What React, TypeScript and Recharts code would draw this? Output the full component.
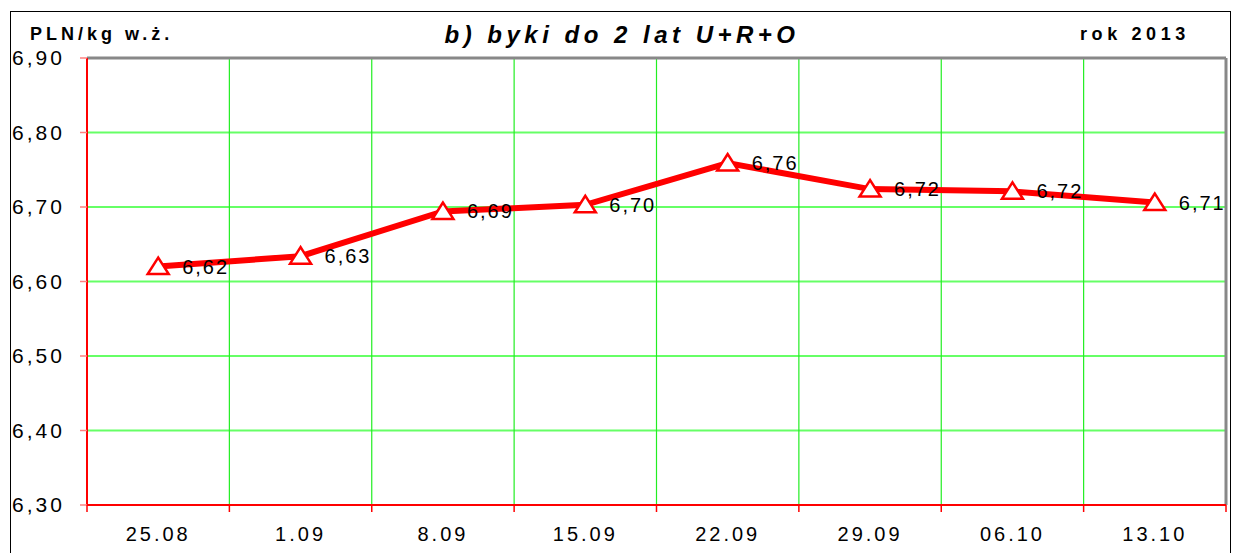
import React from 'react';
import {
  LineChart,
  Line,
  XAxis,
  YAxis,
  CartesianGrid,
  ReferenceLine,
  LabelList,
} from 'recharts';

const categories = ['25.08', '1.09', '8.09', '15.09', '22.09', '29.09', '06.10', '13.10'];
const prices = [6.62, 6.634, 6.694, 6.703, 6.759, 6.724, 6.721, 6.706];
const priceLabels = ['6,62', '6,63', '6,69', '6,70', '6,76', '6,72', '6,72', '6,71'];
const yTicks = [6.3, 6.4, 6.5, 6.6, 6.7, 6.8, 6.9];
const yTickLabels = ['6,30', '6,40', '6,50', '6,60', '6,70', '6,80', '6,90'];
const boundaryTicks = [0, 1, 2, 3, 4, 5, 6, 7, 8];
const centerTicks = categories.map((_, i) => i + 0.5);

const data = categories.map((c, i) => ({ pos: i + 0.5, cat: c, value: prices[i], label: priceLabels[i] }));

const FONT = '"Liberation Sans", Arial, sans-serif';

const YTick = (props: any) => {
  const { y, payload } = props;
  const idx = yTicks.findIndex((t) => Math.abs(t - payload.value) < 1e-6);
  return (
    <text x={12} y={y} dy={7} textAnchor="start" fontSize={21} fontFamily={FONT} fill="#000" letterSpacing={3}>
      {idx >= 0 ? yTickLabels[idx] : ''}
    </text>
  );
};

const XTick = (props: any) => {
  const { x, y, payload } = props;
  const idx = Math.floor(payload.value);
  return (
    <text x={x} y={y} dy={20} textAnchor="middle" fontSize={20} fontFamily={FONT} fill="#000" letterSpacing={3}>
      {categories[idx] ?? ''}
    </text>
  );
};

const BoundaryTick = (props: any) => {
  const { x, y } = props;
  return <line x1={x} y1={y} x2={x} y2={y + 7} stroke="#ff0000" strokeWidth={1.5} />;
};

const Triangle = (props: any) => {
  const { cx, cy, index } = props;
  if (cx == null || cy == null) return null;
  const pts = `${cx},${cy - 9} ${cx - 10.5},${cy + 7.5} ${cx + 10.5},${cy + 7.5}`;
  return <polygon key={`tri-${index}`} points={pts} fill="#fff" stroke="#ff0000" strokeWidth={2.5} strokeLinejoin="miter" />;
};

const ValueLabel = (props: any) => {
  const { x, y, index } = props;
  return (
    <text x={x + 24} y={y} dy={7} textAnchor="start" fontSize={20} fontFamily={FONT} fill="#000" letterSpacing={2}>
      {priceLabels[index]}
    </text>
  );
};

export default function App() {
  return (
    <div
      style={{
        position: 'absolute',
        left: 0,
        top: 0,
        width: 1233,
        height: 553,
        overflow: 'hidden',
        background: '#fff',
        fontFamily: FONT,
      }}
    >
      <div
        style={{
          position: 'absolute',
          left: 10,
          top: 11,
          width: 1219,
          height: 600,
          border: '1.5px solid #000',
        }}
      />
      <div
        style={{
          position: 'absolute',
          left: 30,
          top: 24,
          fontSize: 18,
          fontWeight: 'bold',
          letterSpacing: 4,
          color: '#000',
        }}
      >
        PLN/kg w.ż.
      </div>
      <div
        style={{
          position: 'absolute',
          left: 380,
          width: 484,
          textAlign: 'center',
          top: 21,
          fontSize: 24,
          fontWeight: 'bold',
          fontStyle: 'italic',
          letterSpacing: 4.5,
          color: '#000',
        }}
      >
        b) byki do 2 lat U+R+O
      </div>
      <div
        style={{
          position: 'absolute',
          left: 1080,
          top: 24,
          fontSize: 18,
          fontWeight: 'bold',
          letterSpacing: 4.6,
          color: '#000',
        }}
      >
        rok 2013
      </div>
      <div style={{ position: 'absolute', left: 0, top: 0 }}>
        <LineChart width={1233} height={553} data={data} margin={{ top: 58, right: 7, bottom: 18, left: 0 }}>
          <XAxis
            xAxisId="b"
            type="number"
            dataKey="pos"
            domain={[0, 8]}
            ticks={boundaryTicks}
            height={8}
            tick={<BoundaryTick />}
            tickLine={false}
            tickSize={0}
            tickMargin={0}
            axisLine={false}
            interval={0}
            allowDataOverflow
          />
          <XAxis
            xAxisId="lab"
            type="number"
            dataKey="pos"
            domain={[0, 8]}
            ticks={centerTicks}
            height={22}
            tickLine={false}
            axisLine={false}
            tick={<XTick />}
            interval={0}
            allowDataOverflow
          />
          <YAxis
            width={87}
            domain={[6.3, 6.9]}
            ticks={yTicks}
            tick={<YTick />}
            tickLine={{ stroke: '#ff8080', strokeWidth: 1.5 }}
            tickSize={7}
            axisLine={false}
          />
          <CartesianGrid xAxisId="b" vertical={false} stroke="#66ff66" strokeWidth={2} />
          {boundaryTicks.map((t) => (
            <ReferenceLine key={`v-${t}`} xAxisId="b" x={t} stroke="#22ee22" strokeWidth={1.2} />
          ))}
          <ReferenceLine xAxisId="b" y={6.9} stroke="#888" strokeWidth={3} />
          <ReferenceLine xAxisId="b" x={8} stroke="#888" strokeWidth={3} />
          <ReferenceLine xAxisId="b" y={6.3} stroke="#ff0000" strokeWidth={2} />
          <ReferenceLine xAxisId="b" x={0} stroke="#ff0000" strokeWidth={2} />
          <Line
            xAxisId="b"
            type="linear"
            dataKey="value"
            stroke="#ff0000"
            strokeWidth={6}
            dot={<Triangle />}
            activeDot={false}
            isAnimationActive={false}
          >
            <LabelList dataKey="label" content={<ValueLabel />} />
          </Line>
        </LineChart>
      </div>
    </div>
  );
}
